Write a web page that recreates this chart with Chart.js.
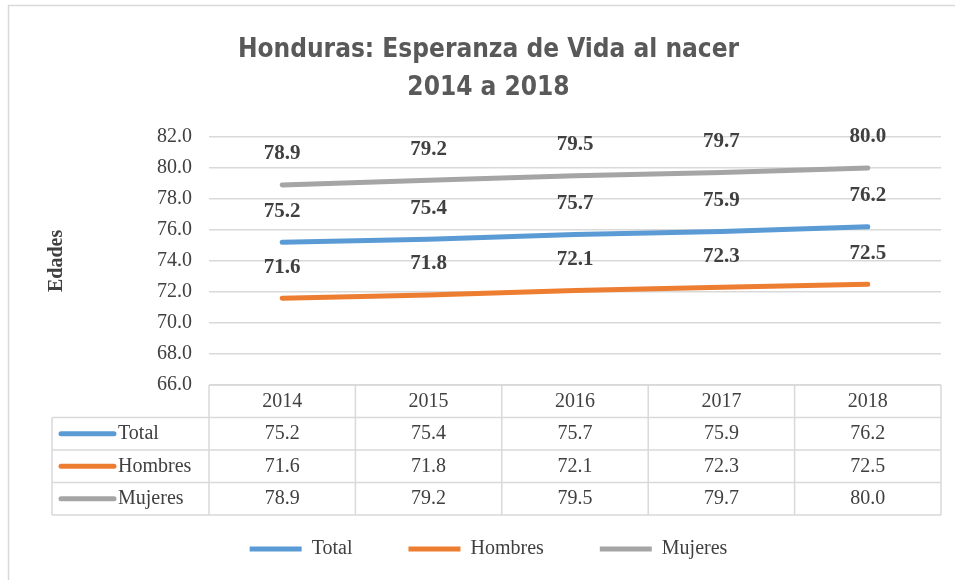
<!DOCTYPE html>
<html>
<head>
<meta charset="utf-8">
<script src="https://cdn.jsdelivr.net/npm/chart.js@4"></script>
<style>
  body { margin: 0; background: #fff; }
  #wrap { width: 955px; height: 580px; }
</style>
</head>
<body>
<div id="wrap"><canvas id="chart" width="955" height="580"></canvas></div>
<script>
const years = ['2014', '2015', '2016', '2017', '2018'];
const total = [75.2, 75.4, 75.7, 75.9, 76.2];
const hombres = [71.6, 71.8, 72.1, 72.3, 72.5];
const mujeres = [78.9, 79.2, 79.5, 79.7, 80.0];
const seriesNames = ['Total', 'Hombres', 'Mujeres'];
const seriesColors = ['#5b9bd5', '#ed7d31', '#a5a5a5'];
const titleLines = ['Honduras: Esperanza de Vida al nacer', '2014 a 2018'];
const yTitle = 'Edades';

const serif = "'Liberation Serif', 'Times New Roman', serif";
const textColor = '#404040';
const lineColor = '#d9d9d9';

// frame, value labels and the data table under the plot
const tablePlugin = {
  id: 'tablePlugin',
  beforeDraw(chart) {
    const ctx = chart.ctx;
    ctx.save();
    ctx.strokeStyle = lineColor;
    ctx.lineWidth = 1.5;
    ctx.strokeRect(8.5, 5.5, 1200, 1200);
    ctx.restore();
  },
  afterDraw(chart) {
    const ctx = chart.ctx;
    const area = chart.chartArea;
    const xs = chart.scales.x;
    const step = xs.getPixelForValue(1) - xs.getPixelForValue(0);

    // value labels above the lines
    ctx.save();
    ctx.font = 'bold 21px ' + serif;
    ctx.fillStyle = textColor;
    ctx.textAlign = 'center';
    ctx.textBaseline = 'middle';
    chart.data.datasets.forEach((ds, i) => {
      const meta = chart.getDatasetMeta(i);
      meta.data.forEach((pt, j) => {
        ctx.fillText(ds.data[j].toFixed(1), pt.x, pt.y - 31);
      });
    });
    ctx.restore();

    // table
    const top = area.bottom;
    const rowH = 32.5;
    const leftX = 52;
    const rows = chart.data.datasets;
    const bottom = top + rowH * (rows.length + 1);
    ctx.save();
    ctx.strokeStyle = lineColor;
    ctx.lineWidth = 1.5;
    ctx.beginPath();
    ctx.moveTo(area.left, top);
    ctx.lineTo(area.right, top);
    for (let r = 1; r <= rows.length + 1; r++) {
      ctx.moveTo(leftX, top + rowH * r);
      ctx.lineTo(area.right, top + rowH * r);
    }
    ctx.moveTo(leftX, top + rowH);
    ctx.lineTo(leftX, bottom);
    for (let c = 0; c <= years.length; c++) {
      const x = xs.getPixelForValue(c) - step / 2;
      ctx.moveTo(x, top);
      ctx.lineTo(x, bottom);
    }
    ctx.stroke();

    ctx.font = '20px ' + serif;
    ctx.fillStyle = textColor;
    ctx.textBaseline = 'middle';
    ctx.textAlign = 'center';
    years.forEach((y, c) => {
      ctx.fillText(y, xs.getPixelForValue(c), top + rowH / 2);
    });
    rows.forEach((ds, r) => {
      const cy = top + rowH * (r + 1.5);
      ctx.textAlign = 'center';
      ds.data.forEach((v, c) => {
        ctx.fillText(v.toFixed(1), xs.getPixelForValue(c), cy);
      });
      ctx.strokeStyle = ds.borderColor;
      ctx.lineWidth = 5;
      ctx.lineCap = 'round';
      ctx.beginPath();
      ctx.moveTo(61, cy);
      ctx.lineTo(114, cy);
      ctx.stroke();
      ctx.textAlign = 'left';
      ctx.fillText(ds.label, 118, cy);
    });
    ctx.restore();
  }
};

const makeSet = (i, data) => ({
  label: seriesNames[i],
  data: data,
  borderColor: seriesColors[i],
  backgroundColor: seriesColors[i],
  borderWidth: 5,
  borderCapStyle: 'round',
  pointRadius: 0,
  pointStyle: 'line',
  tension: 0
});

new Chart(document.getElementById('chart'), {
  type: 'line',
  data: {
    labels: years,
    datasets: [makeSet(0, total), makeSet(1, hombres), makeSet(2, mujeres)]
  },
  options: {
    responsive: false,
    animation: false,
    layout: { padding: { top: 0, left: 36, right: 14, bottom: 11 } },
    scales: {
      x: {
        offset: true,
        grid: { display: false },
        border: { display: false },
        ticks: { display: false },
        afterFit: (s) => { s.height = 98; }
      },
      y: {
        min: 66,
        max: 82,
        grid: { color: lineColor, lineWidth: 1.5, drawTicks: false },
        border: { display: false },
        ticks: {
          stepSize: 2,
          padding: 17,
          color: textColor,
          font: { family: serif, size: 20 },
          callback: (v) => v.toFixed(1)
        },
        title: {
          display: true,
          text: yTitle,
          color: textColor,
          padding: { top: 9, bottom: 0 },
          font: { family: serif, size: 20, weight: 'bold' }
        },
        afterFit: (s) => { s.width = 173; }
      }
    },
    plugins: {
      title: {
        display: true,
        text: titleLines,
        color: '#595959',
        padding: { top: 31, bottom: 30 },
        font: { family: "'Liberation Sans Narrow', 'DejaVu Sans Condensed', sans-serif", size: 26, weight: 'bold', lineHeight: 1.46 }
      },
      legend: {
        position: 'bottom',
        labels: {
          usePointStyle: true,
          pointStyleWidth: 52,
          padding: 56,
          color: textColor,
          font: { family: serif, size: 20 }
        }
      },
      tooltip: { enabled: false }
    }
  },
  plugins: [tablePlugin]
});
</script>
</body>
</html>
